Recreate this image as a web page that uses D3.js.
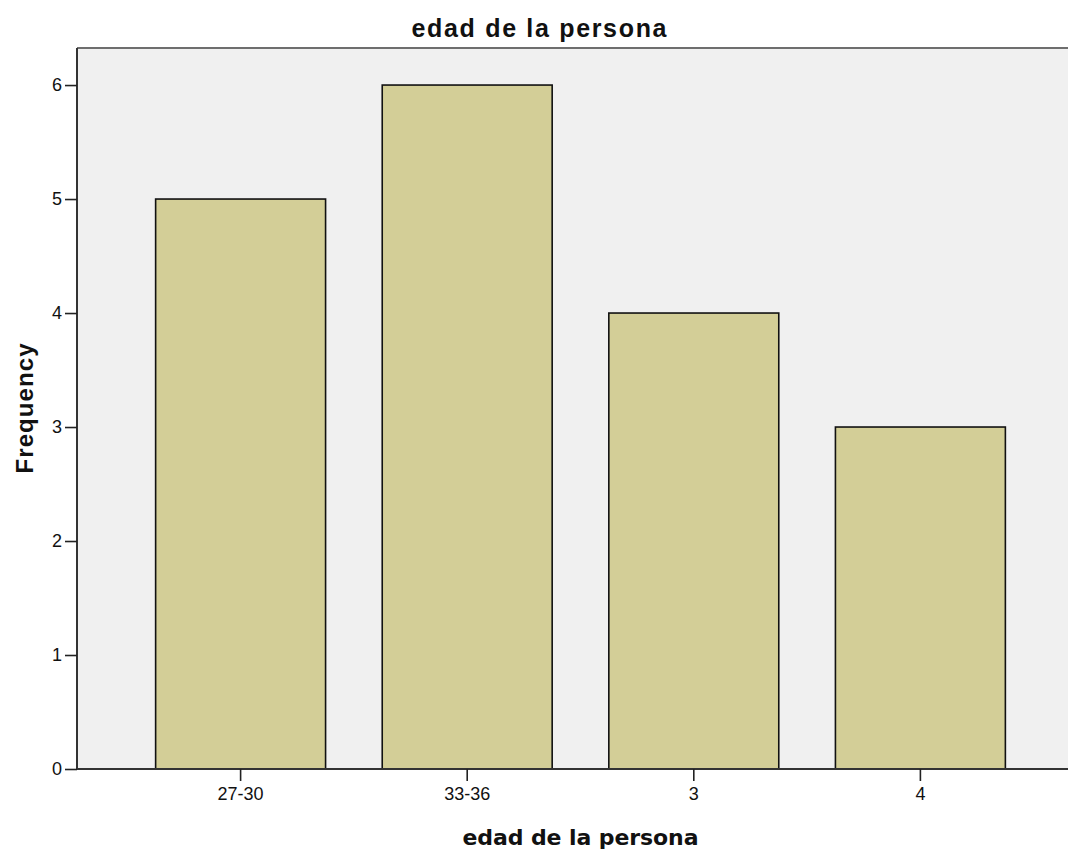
<!DOCTYPE html>
<html>
<head>
<meta charset="utf-8">
<script src="https://cdn.jsdelivr.net/npm/d3@7"></script>
<style>
  body { margin: 0; background: #fff; }
  svg { display: block; }
</style>
</head>
<body>
<svg id="graphe" width="1068" height="852"></svg>
<script>
// données
var categories = ["27-30", "33-36", "3", "4"];
var frequences = [5, 6, 4, 3];
var ticksY = [0, 1, 2, 3, 4, 5, 6];

var titre = "edad de la persona";
var titreX = "edad de la persona";
var titreY = "Frequency";

//-------------------Zone de tracé----------------------------------------
var gauche = 77, droite = 1084, haut = 48, bas = 769;

var svg = d3.select("#graphe");

var x = d3.scaleBand()
    .domain(categories)
    .range([gauche, droite])
    .paddingInner(0.25)
    .paddingOuter(0.347);

var y = d3.scaleLinear()
    .domain([0, 6.325])
    .range([bas, haut]);

// fond gris
svg.append("rect")
    .attr("x", gauche)
    .attr("y", haut)
    .attr("width", droite - gauche)
    .attr("height", bas - haut)
    .attr("fill", "#f0f0f0");

// bord du haut
svg.append("line")
    .attr("x1", gauche).attr("x2", droite)
    .attr("y1", haut).attr("y2", haut)
    .attr("stroke", "#6e6e6e")
    .attr("stroke-width", 2);

//-------------------Barres----------------------------------------
svg.selectAll(".barre")
    .data(categories)
    .enter()
    .append("rect")
    .attr("class", "barre")
    .attr("x", function(d) { return x(d); })
    .attr("y", function(d, i) { return y(frequences[i]); })
    .attr("width", x.bandwidth())
    .attr("height", function(d, i) { return y(0) - y(frequences[i]); })
    .attr("fill", "#d3ce97")
    .attr("stroke", "#111")
    .attr("stroke-width", 1.6);

//-------------------Axes----------------------------------------
var axeY = svg.append("g")
    .attr("transform", "translate(" + gauche + ",0)")
    .call(d3.axisLeft(y).tickValues(ticksY).tickFormat(d3.format("d")).tickSize(12).tickSizeOuter(0).tickPadding(3));

var axeX = svg.append("g")
    .attr("transform", "translate(0," + bas + ")")
    .call(d3.axisBottom(x).tickSize(12).tickSizeOuter(0).tickPadding(6));

axeY.select(".domain").attr("stroke", "#333").attr("stroke-width", 2)
    .attr("d", "M0," + bas + "V" + haut);
axeX.select(".domain").attr("stroke", "#333").attr("stroke-width", 2)
    .attr("d", "M" + gauche + ",0H" + droite);

svg.selectAll(".tick line").attr("stroke", "#222").attr("stroke-width", 1.6);
svg.selectAll(".tick text")
    .attr("fill", "#111")
    .style("font-family", "Liberation Sans, Arial, sans-serif")
    .style("font-size", "18px");

//-------------------Titres----------------------------------------
svg.append("text")
    .attr("x", 539)
    .attr("y", 37)
    .attr("text-anchor", "middle")
    .attr("textLength", 255)
    .attr("lengthAdjust", "spacing")
    .style("font-family", "Liberation Sans, Arial, sans-serif")
    .style("font-weight", "bold")
    .style("font-size", "25px")
    .attr("fill", "#111")
    .text(titre);

svg.append("text")
    .attr("x", (gauche + droite) / 2)
    .attr("y", 845)
    .attr("text-anchor", "middle")
    .attr("textLength", 236)
    .attr("lengthAdjust", "spacing")
    .style("font-family", "DejaVu Sans, Verdana, sans-serif")
    .style("font-weight", "bold")
    .style("font-size", "22px")
    .attr("fill", "#111")
    .text(titreX);

svg.append("text")
    .attr("transform", "translate(33," + ((haut + bas) / 2) + ") rotate(-90)")
    .attr("text-anchor", "middle")
    .attr("textLength", 130)
    .attr("lengthAdjust", "spacing")
    .style("font-family", "Liberation Sans, Arial, sans-serif")
    .style("font-weight", "bold")
    .style("font-size", "24px")
    .attr("fill", "#111")
    .text(titreY);
</script>
</body>
</html>
